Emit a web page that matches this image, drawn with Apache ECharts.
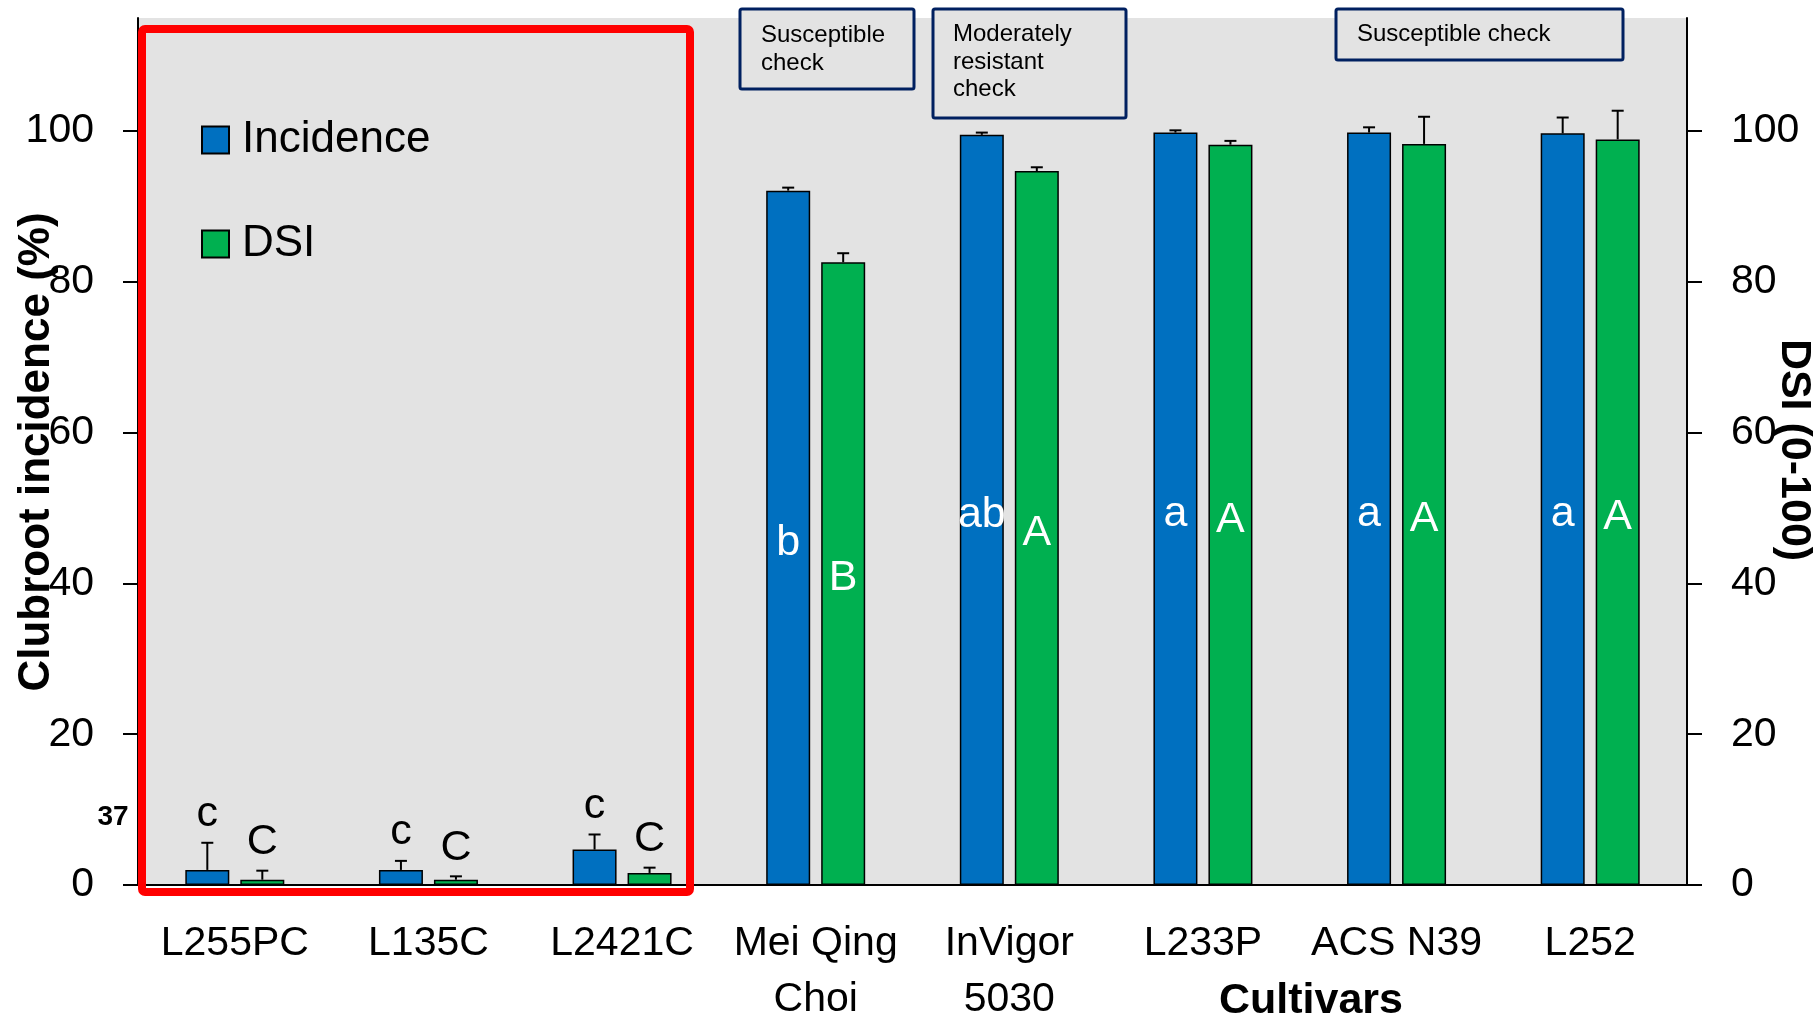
<!DOCTYPE html>
<html>
<head>
<meta charset="utf-8">
<script src="https://cdn.jsdelivr.net/npm/echarts@6/dist/echarts.min.js"></script>
<style>
html,body{margin:0;padding:0;background:#fff;}
#chart{width:1819px;height:1022px;}
</style>
</head>
<body>
<div id="chart"></div>
<script>
// ---- data ----
const categories = ['L255PC', 'L135C', 'L2421C', 'Mei Qing\nChoi', 'InVigor\n5030', 'L233P', 'ACS N39', 'L252'];
const incidence = [2.0, 2.0, 4.7, 92.1, 99.5, 99.8, 99.8, 99.7];
const incidenceErr = [3.6, 1.2, 2.0, 0.4, 0.3, 0.3, 0.7, 2.1];
const dsi = [0.7, 0.7, 1.6, 82.6, 94.7, 98.2, 98.3, 98.9];
const dsiErr = [1.2, 0.45, 0.7, 1.2, 0.5, 0.5, 3.6, 3.8];
const incidenceLetters = ['c', 'c', 'c', 'b', 'ab', 'a', 'a', 'a'];
const dsiLetters = ['C', 'C', 'C', 'B', 'A', 'A', 'A', 'A'];
const yTicks = [0, 20, 40, 60, 80, 100];
const checkNotes = ['Susceptible\ncheck', 'Moderately\nresistant\ncheck', 'Susceptible check'];
const strayLabel = '37';

// ---- styling ----
const SANS = "'Liberation Sans', Arial, sans-serif";
const BLUE = '#0070C0', GREEN = '#00B050', BG = '#E3E3E3', NAVY = '#002060';
const BAR_W = 44, GAP_W = 11;

function errSeries(name, values, errs, letters, yAxisIndex, side) {
  return {
    name: name + ' err',
    type: 'custom',
    yAxisIndex: yAxisIndex,
    z: 6,
    silent: true,
    data: values.map((v, i) => [i, v, errs[i]]),
    renderItem: function (params, api) {
      const i = api.value(0), v = api.value(1), e = api.value(2);
      const base = api.coord([i, v]);
      const top = api.coord([i, v + e]);
      const x = base[0] + side * (BAR_W + GAP_W) / 2;
      const children = [
        { type: 'line', shape: { x1: x, y1: base[1], x2: x, y2: top[1] }, style: { stroke: '#000', lineWidth: 2 } },
        { type: 'line', shape: { x1: x - 6, y1: top[1], x2: x + 6, y2: top[1] }, style: { stroke: '#000', lineWidth: 2 } }
      ];
      const letter = letters[i];
      if (v > 20) {
        const mid = api.coord([i, v / 2]);
        children.push({ type: 'text', style: { text: letter, x: x, y: mid[1] + 5, fill: '#fff', font: '43px ' + SANS, align: 'center', verticalAlign: 'middle' } });
      } else {
        children.push({ type: 'text', style: { text: letter, x: x, y: top[1] - 7, fill: '#000', font: '43px ' + SANS, align: 'center', verticalAlign: 'bottom' } });
      }
      return { type: 'group', children: children };
    }
  };
}

function yAxisCfg(pos) {
  return {
    type: 'value', position: pos, min: 0, max: 115, interval: 20,
    axisLine: { show: true, lineStyle: { color: '#000', width: 2 } },
    axisTick: { show: true, inside: false, length: 15, lineStyle: { color: '#000', width: 2 }, customValues: yTicks },
    axisLabel: { show: true, margin: 44, color: '#000', fontFamily: SANS, fontSize: 41, customValues: yTicks },
    splitLine: { show: false }
  };
}

function noteBox(x, y, w, h, text, tx, ty) {
  return {
    type: 'group', z: 50,
    children: [
      { type: 'rect', shape: { x: x, y: y, width: w, height: h, r: 2 }, style: { fill: BG, stroke: NAVY, lineWidth: 3 } },
      { type: 'text', style: { x: tx, y: ty, text: text, font: '24px ' + SANS, fill: '#000', lineHeight: 27.5, verticalAlign: 'top', align: 'left' } }
    ]
  };
}

const chart = echarts.init(document.getElementById('chart'), null, { renderer: 'canvas' });
chart.setOption({
  animation: false,
  backgroundColor: '#fff',
  grid: { left: 138, right: 132, top: 18, bottom: 137, show: true, backgroundColor: BG, borderWidth: 0,
          containLabel: false, outerBoundsMode: 'none' },
  legend: {
    orient: 'vertical', left: 196, top: 107,
    itemWidth: 27, itemHeight: 27, itemGap: 48, icon: 'rect',
    data: ['Incidence', 'DSI'],
    textStyle: { fontFamily: SANS, fontSize: 44, lineHeight: 56, color: '#000', padding: [0, 0, 0, 8] }
  },
  xAxis: {
    type: 'category', data: categories,
    axisLine: { show: true, lineStyle: { color: '#000', width: 2 } },
    axisTick: { show: false },
    axisLabel: { color: '#000', fontFamily: SANS, fontSize: 41, lineHeight: 56, margin: 31, interval: 0 }
  },
  yAxis: [yAxisCfg('left'), yAxisCfg('right')],
  series: [
    {
      name: 'Incidence', type: 'bar', data: incidence, yAxisIndex: 0,
      barWidth: BAR_W, barGap: (GAP_W / BAR_W * 100) + '%',
      itemStyle: { color: BLUE, borderColor: '#000', borderWidth: 1.5 }
    },
    {
      name: 'DSI', type: 'bar', data: dsi, yAxisIndex: 1,
      barWidth: BAR_W, barGap: (GAP_W / BAR_W * 100) + '%',
      itemStyle: { color: GREEN, borderColor: '#000', borderWidth: 1.5 }
    },
    errSeries('Incidence', incidence, incidenceErr, incidenceLetters, 0, -1),
    errSeries('DSI', dsi, dsiErr, dsiLetters, 1, 1)
  ],
  graphic: [
    { type: 'text', x: 37, y: 452, rotation: Math.PI / 2, z: 40,
      style: { text: 'Clubroot incidence (%)', font: 'bold 44px ' + SANS, fill: '#000', align: 'center', verticalAlign: 'middle' } },
    { type: 'text', x: 1794, y: 450, rotation: -Math.PI / 2, z: 40,
      style: { text: 'DSI (0-100)', font: 'bold 43px ' + SANS, fill: '#000', align: 'center', verticalAlign: 'middle' } },
    { type: 'text', x: 1311, y: 1001, z: 40,
      style: { text: 'Cultivars', font: 'bold 43px ' + SANS, fill: '#000', align: 'center', verticalAlign: 'middle' } },
    { type: 'text', x: 113, y: 817, z: 40,
      style: { text: strayLabel, font: 'bold 28px ' + SANS, fill: '#000', align: 'center', verticalAlign: 'middle' } },
    { type: 'rect', z: 60, shape: { x: 142, y: 29, width: 548, height: 863, r: 3 },
      style: { fill: 'none', stroke: '#FF0000', lineWidth: 8 } },
    noteBox(740, 9, 174, 80, checkNotes[0], 761, 22),
    noteBox(933, 9, 193, 109, checkNotes[1], 953, 21),
    noteBox(1336, 9, 287, 51, checkNotes[2], 1357, 21)
  ]
});
</script>
</body>
</html>
